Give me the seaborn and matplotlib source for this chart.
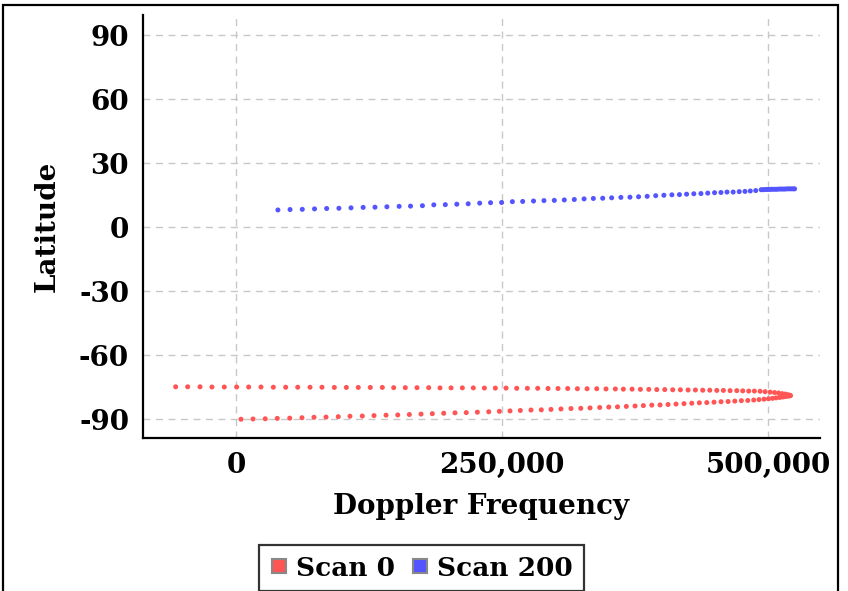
import pandas as pd
import numpy as np
import matplotlib.pyplot as plt
import matplotlib.ticker as mticker
from matplotlib.lines import Line2D
from matplotlib.patches import Rectangle
import seaborn as sns

sns.set_style("white")
plt.rcParams['font.family'] = ['DejaVu Serif']
plt.rcParams['font.weight'] = 'bold'
plt.rcParams['axes.unicode_minus'] = False
plt.rcParams['text.color'] = 'black'
plt.rcParams['xtick.labelcolor'] = 'black'
plt.rcParams['ytick.labelcolor'] = 'black'
plt.rcParams['axes.labelcolor'] = 'black'

# Scan 0 - upper branch (Doppler, latitude)
scan0_top_x = [-56700, -45400, -33800, -22600, -11000, 660, 11900, 23500, 35100, 46700,
               58000, 69600, 80800, 92400, 103700, 114900, 126200, 137500, 148200, 159100,
               170100, 181100, 191700, 202100, 212700, 223000, 233400, 243700, 253800, 263800,
               273800, 283500, 293200, 302600, 311700, 320800, 329900, 339000, 347700, 356500,
               364000, 372200, 380000, 387900, 395400, 402900, 410400, 417600, 424800, 431700,
               438600, 445200, 451800, 458000, 464300, 470600, 476200, 481800, 487100, 492500,
               497200, 501900, 506100, 509800, 513100, 516000, 518300, 520200, 521100]
scan0_top_lat = [-74.8, -74.8, -74.8, -74.9, -74.9, -74.9, -74.9, -74.9, -75.0, -75.0,
                 -75.0, -75.0, -75.0, -75.1, -75.1, -75.1, -75.1, -75.1, -75.2, -75.2,
                 -75.2, -75.2, -75.3, -75.3, -75.3, -75.3, -75.4, -75.4, -75.4, -75.5,
                 -75.5, -75.5, -75.6, -75.6, -75.6, -75.7, -75.7, -75.7, -75.8, -75.8,
                 -75.9, -75.9, -76.0, -76.0, -76.1, -76.1, -76.2, -76.2, -76.3, -76.3,
                 -76.4, -76.4, -76.5, -76.5, -76.6, -76.6, -76.7, -76.8, -76.8, -76.9,
                 -77.1, -77.3, -77.5, -77.7, -78.0, -78.2, -78.5, -78.7, -78.9]

# Scan 0 - lower branch
scan0_bot_x = [4700, 16000, 27500, 38800, 50500, 62000, 73300, 84600, 96100, 107100,
               118700, 129700, 141000, 152000, 162900, 173900, 184500, 195200, 205800, 216400,
               226800, 237500, 247500, 257500, 267200, 277200, 286900, 296000, 305400, 314800,
               324000, 332700, 341800, 350300, 358500, 366800, 375000, 382800, 390700, 398500,
               406000, 413500, 421000, 428300, 435400, 442400, 449200, 455800, 462400, 468700,
               474900, 480900, 486500, 491500, 496200, 500400, 504200, 507500, 510800, 513600,
               516000, 518300, 520200]
scan0_bot_lat = [-90.0, -89.9, -89.8, -89.6, -89.5, -89.3, -89.1, -89.0, -88.8, -88.6,
                 -88.5, -88.3, -88.1, -88.0, -87.8, -87.6, -87.4, -87.2, -87.0, -86.9,
                 -86.7, -86.5, -86.3, -86.1, -85.9, -85.7, -85.6, -85.4, -85.2, -85.0,
                 -84.9, -84.7, -84.5, -84.3, -84.2, -84.0, -83.8, -83.6, -83.4, -83.3,
                 -83.1, -82.9, -82.7, -82.5, -82.3, -82.2, -82.0, -81.8, -81.7, -81.5,
                 -81.3, -81.2, -81.0, -80.8, -80.6, -80.4, -80.2, -80.0, -79.8, -79.6,
                 -79.4, -79.2, -79.1]

# Scan 200
scan200_x = [39400, 50800, 62300, 73800, 85200, 96700, 108100, 119500, 130600, 141800,
             153300, 164000, 175200, 185900, 196700, 207500, 218200, 229000, 239200, 249600,
             259700, 269400, 279600, 289400, 299100, 308500, 317900, 327100, 335800, 344600,
             353000, 361700, 370200, 378300, 386400, 394400, 402100, 409600, 416700, 423400,
             430200, 436900, 443300, 449700, 455700, 461400, 467200, 472900, 478300, 483300,
             488400, 493500, 495400, 497300, 499200, 501000, 502900, 504800, 506700, 508500,
             510400, 512300, 514100, 516000, 517900, 519700, 521600, 523500, 524900]
scan200_lat = [8.1, 8.3, 8.4, 8.6, 8.8, 8.9, 9.1, 9.3, 9.4, 9.6,
               9.8, 9.9, 10.1, 10.5, 10.6, 10.8, 11.0, 11.3, 11.5, 11.6,
               12.0, 12.1, 12.3, 12.5, 12.6, 12.8, 13.0, 13.3, 13.5, 13.6,
               13.8, 14.0, 14.1, 14.3, 14.5, 14.8, 15.0, 15.2, 15.3, 15.5,
               15.7, 15.8, 16.0, 16.2, 16.3, 16.5, 16.5, 16.7, 16.8, 17.0,
               17.2, 17.6, 17.6, 17.7, 17.7, 17.7, 17.8, 17.8, 17.8, 17.8,
               17.9, 17.9, 17.9, 17.9, 18.0, 18.0, 18.0, 18.0, 18.0]

scan_names = ["Scan 0", "Scan 200"]
scan_colors = ["#ff5555", "#5555ff"]

y_ticks = [-90, -60, -30, 0, 30, 60, 90]
x_ticks = [0, 250000, 500000]

df = pd.concat([
    pd.DataFrame({"doppler": scan0_top_x + scan0_bot_x,
                  "lat": scan0_top_lat + scan0_bot_lat, "scan": scan_names[0]}),
    pd.DataFrame({"doppler": scan200_x, "lat": scan200_lat, "scan": scan_names[1]}),
])

fig = plt.figure(figsize=(8.48, 5.91), dpi=100)
ax = fig.add_axes([0.1686, 0.2589, 0.7984, 0.7157])

sns.scatterplot(data=df, x="doppler", y="lat", hue="scan", hue_order=scan_names,
                palette=scan_colors, s=13, linewidth=0, legend=False, ax=ax, zorder=3)

ax.set_xlim(-87400, 548800)
ax.set_ylim(-98.8, 99.5)
ax.set_xticks(x_ticks)
ax.set_yticks(y_ticks)
ax.xaxis.set_major_formatter(mticker.FuncFormatter(lambda v, p: f"{int(v):,}"))

# Grid and spines
ax.grid(True, color="#c8c8c8", linestyle=(0, (5, 4)), linewidth=1)
ax.set_axisbelow(True)
for side in ["top", "right"]:
    ax.spines[side].set_visible(False)
for side in ["left", "bottom"]:
    ax.spines[side].set_linewidth(1.6)
    ax.spines[side].set_color("black")
ax.tick_params(axis="both", length=4, width=1, color="#666666", labelsize=20, pad=6)

ax.set_xlabel("Doppler Frequency", fontsize=20, fontweight="bold", labelpad=10)
ax.set_ylabel("Latitude", fontsize=20, fontweight="bold", labelpad=13)

# Legend
handles = [Line2D([], [], linestyle="none", marker="s", markersize=10,
                  markerfacecolor=c, markeredgecolor="#888888", markeredgewidth=1.5)
           for c in scan_colors]
fig.legend(handles, scan_names, loc="upper center", bbox_to_anchor=(0.497, 0.1),
           ncol=2, frameon=True, fancybox=False, edgecolor="black",
           handlelength=0.7, handletextpad=0.3, columnspacing=0.6, borderpad=0.4,
           prop={"weight": "bold", "size": 19})
leg = fig.legends[0]
leg.get_frame().set_linewidth(1.6)

# Outer border (bottom edge falls outside the picture)
fig.patches.append(Rectangle((0.0035, -0.2), 0.9847, 1.1915, transform=fig.transFigure,
                             fill=False, edgecolor="black", linewidth=1.6))

plt.savefig("out.png", dpi=100)
